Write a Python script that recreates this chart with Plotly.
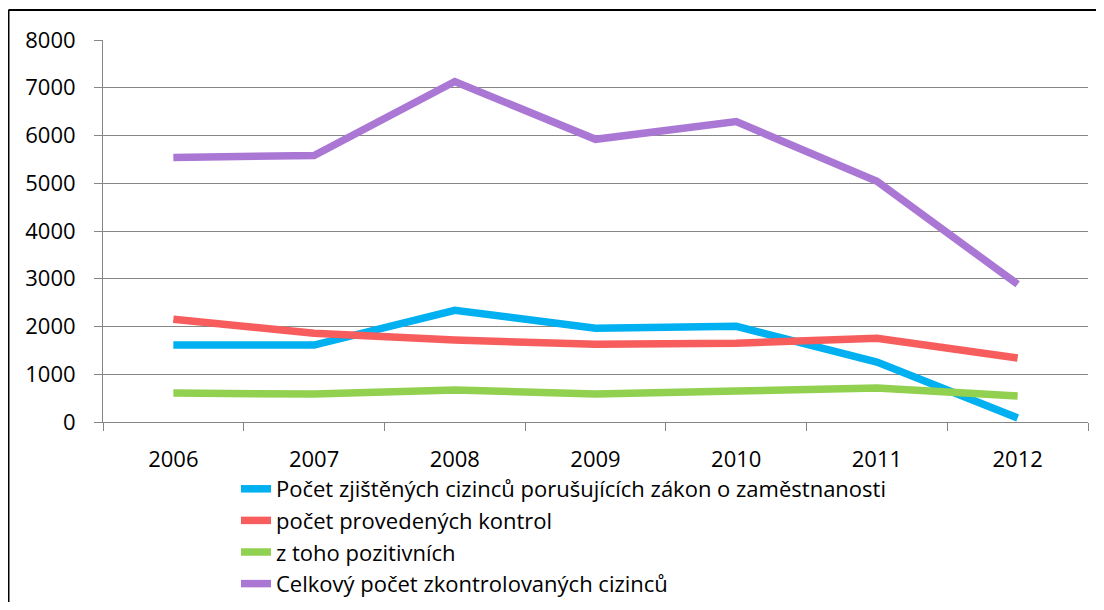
import plotly.graph_objects as go

years = ["2006", "2007", "2008", "2009", "2010", "2011", "2012"]
zjistenych = [1610, 1610, 2340, 1965, 2005, 1255, 85]
kontrol = [2150, 1860, 1715, 1630, 1650, 1755, 1340]
pozitivnich = [605, 585, 670, 585, 650, 710, 545]
celkovy = [5540, 5580, 7130, 5920, 6290, 5040, 2885]

names = [
    "Počet zjištěných cizinců porušujících zákon o zaměstnanosti",
    "počet provedených kontrol",
    "z toho pozitivních",
    "Celkový počet zkontrolovaných cizinců",
]
colors = ["#00B0F0", "#F75D5D", "#92D050", "#AB77D5"]
series = [zjistenych, kontrol, pozitivnich, celkovy]

OFF = 8  # page body margin
W, H = 1096, 594
L, R, T = 103 - OFF, 16, 40 - OFF
B = H - (422 - OFF)
pw, ph = W - L - R, H - T - B

def px_x(p):
    return (p - OFF - L) / pw

def px_y(p):
    return (H - B - (p - OFF)) / ph

fig = go.Figure()
for n, c, s in zip(names, colors, series):
    fig.add_trace(go.Scatter(x=years, y=s, name=n, mode="lines",
                             line=dict(color=c, width=7.5),
                             hoverinfo="skip"))

font = dict(family="Open Sans, Lato, sans-serif", size=22, color="#000000")
lfont = dict(family="Open Sans, Lato, sans-serif", size=22, color="#000000")

fig.update_layout(
    width=W, height=H,
    margin=dict(l=L, r=R, t=T, b=B, autoexpand=False),
    paper_bgcolor="white", plot_bgcolor="white",
    font=font,
    showlegend=True,
    legend=dict(x=px_x(236), y=px_y(468), xanchor="left", yanchor="top",
                bgcolor="rgba(0,0,0,0)", font=lfont, tracegroupgap=0),
    xaxis=dict(type="category", tickson="boundaries", ticks="outside",
               range=[-0.5, 6.5],
               ticklen=8, tickcolor="#868686", showline=True,
               linecolor="#868686", linewidth=1, showgrid=False,
               tickfont=font, zeroline=False, fixedrange=True,
               ticklabelstandoff=18),
    yaxis=dict(range=[0, 8000], tickvals=[0, 1000, 2000, 3000, 4000, 5000, 6000, 7000, 8000],
               ticks="outside", ticklen=8, tickcolor="#868686",
               showline=True, linecolor="#868686", linewidth=1,
               showgrid=True, gridcolor="#868686", gridwidth=1,
               zeroline=False, tickfont=font, fixedrange=True,
               ticklabelstandoff=14),
    shapes=[
        dict(type="line", xref="paper", yref="paper",
             x0=px_x(8.5), x1=px_x(1120), y0=px_y(10), y1=px_y(10),
             line=dict(color="black", width=2)),
        dict(type="line", xref="paper", yref="paper",
             x0=px_x(8.5), x1=px_x(8.5), y0=px_y(10), y1=px_y(640),
             line=dict(color="black", width=2)),
    ],
)

fig.write_html("out.html")
